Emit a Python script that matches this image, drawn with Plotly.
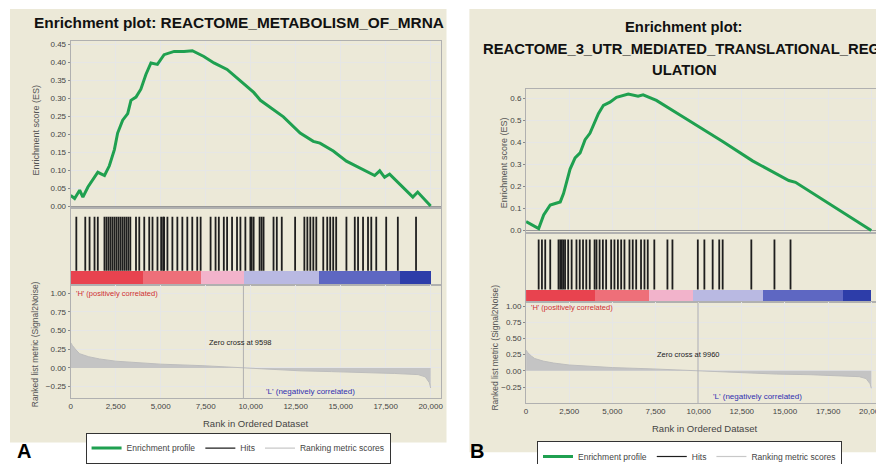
import plotly.graph_objects as go

W, H = 884, 464

# ---------------- data : panel A ----------------
title_a = "Enrichment plot: REACTOME_METABOLISM_OF_MRNA"
es_rank_a = [0, 220, 500, 680, 960, 1510, 1880, 2150, 2430, 2610, 2890, 3170, 3350, 3630,
             3900, 4180, 4460, 4820, 5190, 5750, 6300, 6760, 7400, 7960, 8690, 9430, 10170,
             10540, 11820, 12750, 13480, 13850, 14590, 15320, 16060, 16890, 17170, 17440,
             17720, 18270, 19010, 19280, 20000]
es_a = [0.030, 0.021, 0.044, 0.025, 0.053, 0.094, 0.085, 0.112, 0.157, 0.203, 0.239, 0.257,
        0.294, 0.303, 0.325, 0.366, 0.398, 0.394, 0.421, 0.430, 0.430, 0.432, 0.416, 0.398,
        0.380, 0.348, 0.316, 0.294, 0.248, 0.203, 0.180, 0.175, 0.153, 0.125, 0.107, 0.085,
        0.098, 0.080, 0.089, 0.062, 0.025, 0.039, 0.0]
hits_a = [315, 812, 1050, 1326, 1508, 1879, 1989, 2100, 2210, 2320, 2431, 2541, 2652, 2762,
          2873, 2983, 3094, 3204, 3315, 3630, 3812, 4089, 4365, 4547, 4823, 5028, 5138, 5193,
          5376, 5652, 5928, 6205, 6481, 6757, 7033, 7221, 7774, 8050, 8232, 8509, 8691, 8967,
          9243, 9431, 9707, 9984, 10055, 10166, 10497, 10608, 10718, 11271, 11453, 11729,
          12470, 12984, 13150, 13315, 13481, 13647, 14034, 14255, 14420, 14586, 14752, 15321,
          15785, 15967, 16244, 16520, 16702, 16978, 17531, 18177, 19188]
metric_rank_a = [0, 100, 300, 500, 1000, 1600, 2500, 3600, 5000, 7300, 9598, 11000, 12800,
                 14500, 16500, 18000, 19300, 19700, 19930, 20000]
metric_a = [0.34, 0.30, 0.24, 0.19, 0.15, 0.12, 0.09, 0.07, 0.05, 0.03, 0.0, -0.02, -0.04,
            -0.05, -0.06, -0.075, -0.09, -0.12, -0.20, -0.27]
zero_cross_a = 9598
band_edges_a = [0, 4000, 7200, 9600, 13800, 18300, 20000]

# ---------------- data : panel B ----------------
title_b_lines = ["Enrichment plot:", "REACTOME_3_UTR_MEDIATED_TRANSLATIONAL_REG", "ULATION"]
es_rank_b = [0, 730, 1020, 1400, 1690, 1980, 2170, 2550, 2840, 3130, 3420, 3700, 4190, 4480,
             4860, 5240, 5920, 6490, 6780, 7550, 9080, 9850, 11390, 13120, 15220, 15610,
             17530, 20000]
es_b = [0.041, 0.009, 0.071, 0.116, 0.123, 0.130, 0.168, 0.279, 0.330, 0.352, 0.412, 0.441,
        0.530, 0.568, 0.582, 0.604, 0.619, 0.609, 0.615, 0.590, 0.516, 0.479, 0.404, 0.316,
        0.227, 0.219, 0.123, 0.0]
hits_b = [730, 920, 1110, 1400, 1880, 1980, 2070, 2160, 2260, 2440, 2640, 2920, 3110, 3300,
          3490, 3690, 3970, 4080, 4260, 4450, 4640, 4930, 5120, 5320, 5510, 5700, 5990, 6180,
          6380, 6660, 6860, 7050, 7430, 8190, 8480, 9950, 10330, 10810, 11190, 11390, 13050,
          14390, 15320]
metric_rank_b = [0, 100, 300, 500, 1000, 1600, 2500, 3600, 5000, 7300, 9960, 11000, 12800,
                 14500, 16500, 18000, 19300, 19700, 19930, 20000]
metric_b = [0.32, 0.28, 0.23, 0.19, 0.15, 0.12, 0.09, 0.07, 0.05, 0.03, 0.0, -0.02, -0.04,
            -0.05, -0.06, -0.075, -0.09, -0.12, -0.20, -0.27]
zero_cross_b = 9960
band_edges_b = [0, 4000, 7150, 9700, 13750, 18370, 20000]

band_colors = ["#e8434f", "#ee6f79", "#f2b3cb", "#b9b9e2", "#5e67c2", "#2d3da9"]
x_ticks = [0, 2500, 5000, 7500, 10000, 12500, 15000, 17500, 20000]
legend_names = ["Enrichment profile", "Hits", "Ranking metric scores"]

BEIGE = "#ECE9D8"
GREEN = "#1fa050"
FONT = "Liberation Sans"


def px(x):
    return x / W


def py(y):
    return 1 - y / H


fig = go.Figure()

panels = [
    dict(ax=["", "2", "3"], xs=(61, 433), xmax=20550,
         es_dom=(33, 203), hit_dom=(203, 281), met_dom=(281, 397),
         es_range=[-0.0055, 0.458], es_dtick=0.05, es_fmt=".2f",
         met_range=[-0.408, 1.118], hit_lo=0.18, hit_hi=0.885,
         es_rank=es_rank_a, es=es_a, hits=hits_a, mrank=metric_rank_a, metric=metric_a,
         zc=zero_cross_a, edges=band_edges_a, legend="legend"),
    dict(ax=["4", "5", "6"], xs=(519, 878), xmax=20680,
         es_dom=(82, 228), hit_dom=(228, 299), met_dom=(299, 402),
         es_range=[-0.009, 0.64], es_dtick=0.1, es_fmt=".1f",
         met_range=[-0.5, 1.06], hit_lo=0.183, hit_hi=0.90,
         es_rank=es_rank_b, es=es_b, hits=hits_b, mrank=metric_rank_b, metric=metric_b,
         zc=zero_cross_b, edges=band_edges_b, legend="legend2"),
]

layout_axes = {}
for p in panels:
    a_es, a_hit, a_met = p["ax"]
    xdom = [px(p["xs"][0]), px(p["xs"][1])]
    # ranking metric (filled)
    fig.add_trace(go.Scatter(x=p["mrank"], y=p["metric"], mode="lines", fill="tozeroy",
                             fillcolor="#c4c4c4", line=dict(color="#bdbdbd", width=1),
                             showlegend=False, hoverinfo="skip",
                             xaxis="x" + a_met, yaxis="y" + a_met))
    # zero cross line
    fig.add_trace(go.Scatter(x=[p["zc"], p["zc"]], y=p["met_range"], mode="lines",
                             line=dict(color="#b0b0b0", width=1), showlegend=False,
                             hoverinfo="skip", xaxis="x" + a_met, yaxis="y" + a_met))
    # hits
    hx, hy = [], []
    for h in p["hits"]:
        hx += [h, h, None]
        hy += [p["hit_lo"], p["hit_hi"], None]
    fig.add_trace(go.Scatter(x=hx, y=hy, mode="lines", line=dict(color="#1e1e1e", width=1.8),
                             showlegend=False, hoverinfo="skip",
                             xaxis="x" + a_hit, yaxis="y" + a_hit))
    # colour band
    e = p["edges"]
    fig.add_trace(go.Bar(x=[(e[i] + e[i + 1]) / 2 for i in range(len(e) - 1)],
                         y=[p["hit_lo"]] * (len(e) - 1),
                         width=[e[i + 1] - e[i] for i in range(len(e) - 1)],
                         base=0, marker=dict(color=band_colors, line=dict(width=0)),
                         showlegend=False, hoverinfo="skip",
                         xaxis="x" + a_hit, yaxis="y" + a_hit))
    # ES curve
    fig.add_trace(go.Scatter(x=p["es_rank"], y=p["es"], mode="lines",
                             line=dict(color=GREEN, width=3), name=legend_names[0],
                             xaxis="x" + a_es, yaxis="y" + a_es, legend=p["legend"]))
    # legend-only entries
    fig.add_trace(go.Scatter(x=[None], y=[None], mode="lines",
                             line=dict(color="#1e1e1e", width=1.2), name=legend_names[1],
                             xaxis="x" + a_es, yaxis="y" + a_es, legend=p["legend"]))
    fig.add_trace(go.Scatter(x=[None], y=[None], mode="lines",
                             line=dict(color="#c8c8c8", width=1.2), name=legend_names[2],
                             xaxis="x" + a_es, yaxis="y" + a_es, legend=p["legend"]))

    common_x = dict(domain=xdom, range=[0, p["xmax"]], tickvals=x_ticks, showgrid=True,
                    gridcolor="#e6e6e6", showline=True, linecolor="#b0b0b0", mirror=True,
                    zeroline=False, ticks="")
    layout_axes["xaxis" + a_es] = dict(common_x, anchor="y" + a_es, showticklabels=False)
    layout_axes["xaxis" + a_hit] = dict(common_x, anchor="y" + a_hit, showticklabels=False,
                                        showgrid=False)
    layout_axes["xaxis" + a_met] = dict(common_x, anchor="y" + a_met, tickformat=",d",
                                        tickfont=dict(size=8, color="#444", family=FONT))
    layout_axes["yaxis" + a_es] = dict(domain=[py(p["es_dom"][1]), py(p["es_dom"][0])],
                                       anchor="x" + a_es, range=p["es_range"],
                                       dtick=p["es_dtick"], tick0=0, tickformat=p["es_fmt"],
                                       showgrid=True, gridcolor="#e6e6e6", showline=True,
                                       linecolor="#b0b0b0", mirror=True, zeroline=True,
                                       zerolinecolor="#999", zerolinewidth=1, ticks="outside",
                                       ticklen=2, tickcolor="#888",
                                       tickfont=dict(size=8, color="#444", family=FONT))
    layout_axes["yaxis" + a_hit] = dict(domain=[py(p["hit_dom"][1]), py(p["hit_dom"][0])],
                                        anchor="x" + a_hit, range=[0, 1], showgrid=False,
                                        showticklabels=False, showline=True,
                                        linecolor="#b0b0b0", mirror=True, zeroline=False)
    layout_axes["yaxis" + a_met] = dict(domain=[py(p["met_dom"][1]), py(p["met_dom"][0])],
                                        anchor="x" + a_met, range=p["met_range"],
                                        tickvals=[-0.25, 0, 0.25, 0.5, 0.75, 1.0],
                                        tickformat=".2f", showgrid=True, gridcolor="#e6e6e6",
                                        showline=True, linecolor="#b0b0b0", mirror=True,
                                        zeroline=False, ticks="outside", ticklen=2,
                                        tickcolor="#888",
                                        tickfont=dict(size=8, color="#444", family=FONT))

shapes = [
    dict(type="rect", xref="paper", yref="paper", x0=0, x1=px(439), y0=py(442), y1=1,
         fillcolor=BEIGE, line=dict(width=0), layer="below"),
    dict(type="rect", xref="paper", yref="paper", x0=px(462), x1=1, y0=py(452), y1=1,
         fillcolor=BEIGE, line=dict(width=0), layer="below"),
]

ann = []


def txt(x, y, s, size=9, color="#333", bold=False, angle=0, xanchor="center"):
    ann.append(dict(x=px(x), y=py(y), xref="paper", yref="paper", text=s, showarrow=False,
                    textangle=angle, xanchor=xanchor, yanchor="middle",
                    font=dict(size=size, color=color, family=FONT,
                              weight="bold" if bold else "normal")))


txt(230, 14, title_a, size=15.4, color="#111", bold=True)
txt(678, 18, title_b_lines[0], size=14.8, color="#111", bold=True)
txt(675, 41, title_b_lines[1], size=14.8, color="#111", bold=True)
txt(678, 62, title_b_lines[2], size=14.8, color="#111", bold=True)

txt(26, 123, "Enrichment score (ES)", size=9, color="#555", angle=-90)
txt(26, 342, "Ranked list metric (Signal2Noise)", size=8.5, color="#555", angle=-90)
txt(497, 157, "Enrichment score (ES)", size=9, color="#555", angle=-90)
txt(488, 345, "Ranked list metric (Signal2Noise)", size=8.5, color="#555", angle=-90)

txt(247, 423, "Rank in Ordered Dataset", size=9.5, color="#444")
txt(698, 428, "Rank in Ordered Dataset", size=9.5, color="#444")

txt(64, 290, "'H' (positively correlated)", size=7.5, color="#d03030", xanchor="left")
txt(232, 340, "Zero cross at 9598", size=7.5, color="#222")
txt(302, 390, "'L' (negatively correlated)", size=8, color="#3030b0")

txt(522, 304, "'H' (positively correlated)", size=7.5, color="#d03030", xanchor="left")
txt(682, 352, "Zero cross at 9960", size=7.5, color="#222")
txt(752, 395, "'L' (negatively correlated)", size=8, color="#3030b0")

txt(14, 451, "A", size=20, color="#000", bold=True)
txt(470, 451, "B", size=20, color="#000", bold=True)

leg_common = dict(orientation="h", bgcolor="white", bordercolor="#333", borderwidth=1,
                  font=dict(size=8.5, color="#444", family=FONT), itemwidth=30,
                  xanchor="left", yanchor="top", tracegroupgap=0)

fig.update_layout(
    width=W, height=H, margin=dict(l=0, r=0, t=0, b=0),
    paper_bgcolor="white", plot_bgcolor="white",
    showlegend=True, bargap=0,
    legend=dict(leg_common, x=px(76), y=py(432)),
    legend2=dict(leg_common, x=px(530), y=py(441)),
    shapes=shapes, annotations=ann,
    **layout_axes,
)

fig.write_html("out.html")
